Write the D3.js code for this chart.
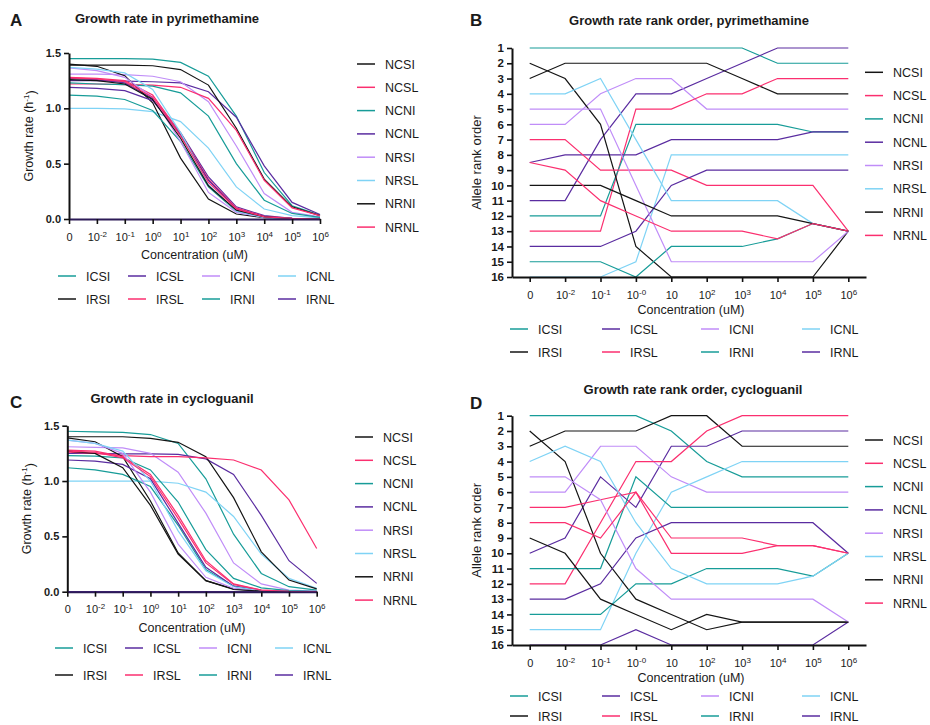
<!DOCTYPE html>
<html>
<head>
<meta charset="utf-8">
<script src="https://cdn.jsdelivr.net/npm/d3@7"></script>
<style>
  body { margin: 0; background: #fff; }
  svg text { font-family: "Liberation Sans", Arial, Helvetica, sans-serif; fill: #1a1a1a; }
</style>
</head>
<body>
<svg id="chart" width="930" height="725"></svg>
<script>
// Alleles, in legend order.
const alleles = ['ICSI', 'ICSL', 'ICNI', 'ICNL', 'IRSI', 'IRSL', 'IRNI', 'IRNL',
                 'NCSI', 'NCSL', 'NCNI', 'NCNL', 'NRSI', 'NRSL', 'NRNI', 'NRNL'];

// Concentration tick labels (base, exponent).
const concGrowthLabels = [['0', ''], ['10', '-2'], ['10', '-1'], ['10', '0'], ['10', '1'],
                          ['10', '2'], ['10', '3'], ['10', '4'], ['10', '5'], ['10', '6']];
const concRankLabels = [['0', ''], ['10', '-2'], ['10', '-1'], ['10', '-0'], ['10', ''],
                        ['10', '2'], ['10', '3'], ['10', '4'], ['10', '5'], ['10', '6']];

const growthTicks = [0, 0.5, 1.0, 1.5];
const rankTicks = [1, 2, 3, 4, 5, 6, 7, 8, 9, 10, 11, 12, 13, 14, 15, 16];

// Growth rate (h-1) in pyrimethamine, one row per allele.
const pyrGrowth = [
  [1.45, 1.45, 1.45, 1.445, 1.415, 1.29, 0.93, 0.42, 0.12, 0.035],   // ICSI
  [1.25, 1.25, 1.245, 1.24, 1.23, 1.15, 0.92, 0.48, 0.15, 0.04],     // ICSL
  [1.31, 1.31, 1.305, 1.29, 1.24, 1.06, 0.66, 0.23, 0.06, 0.02],     // ICNI
  [1.0, 1.0, 0.995, 0.97, 0.88, 0.64, 0.29, 0.09, 0.03, 0.01],       // ICNL
  [1.39, 1.39, 1.39, 1.385, 1.35, 1.21, 0.82, 0.36, 0.11, 0.03],     // IRSI
  [1.22, 1.22, 1.215, 1.21, 1.19, 1.09, 0.80, 0.35, 0.10, 0.03],     // IRSL
  [1.23, 1.22, 1.215, 1.2, 1.14, 0.93, 0.50, 0.17, 0.05, 0.015],     // IRNI
  [1.27, 1.26, 1.23, 1.09, 0.78, 0.38, 0.11, 0.03, 0.006, 0],        // IRNL
  [1.40, 1.38, 1.295, 1.05, 0.55, 0.18, 0.045, 0.012, 0.003, 0],     // NCSI
  [1.28, 1.27, 1.25, 1.12, 0.77, 0.36, 0.10, 0.025, 0.005, 0],       // NCSL
  [1.12, 1.11, 1.08, 0.98, 0.70, 0.29, 0.07, 0.015, 0.004, 0],       // NCNI
  [1.19, 1.18, 1.16, 1.07, 0.76, 0.35, 0.09, 0.02, 0.005, 0],        // NCNL
  [1.365, 1.34, 1.28, 1.10, 0.70, 0.24, 0.06, 0.015, 0.004, 0],      // NRSI
  [1.37, 1.355, 1.32, 1.17, 0.78, 0.31, 0.07, 0.015, 0.004, 0],      // NRSL
  [1.26, 1.25, 1.22, 1.08, 0.73, 0.30, 0.08, 0.02, 0.004, 0],        // NRNI
  [1.275, 1.265, 1.24, 1.10, 0.75, 0.33, 0.09, 0.02, 0.005, 0]       // NRNL
];

// Growth rate (h-1) in cycloguanil.
const cycGrowth = [
  [1.45, 1.445, 1.44, 1.42, 1.34, 1.02, 0.52, 0.165, 0.045, 0.015],  // ICSI
  [1.25, 1.25, 1.245, 1.245, 1.24, 1.20, 1.06, 0.69, 0.28, 0.075],   // ICSL
  [1.31, 1.305, 1.30, 1.25, 1.08, 0.71, 0.26, 0.07, 0.015, 0.005],   // ICNI
  [1.0, 1.0, 1.0, 1.0, 0.98, 0.90, 0.68, 0.34, 0.12, 0.03],          // ICNL
  [1.40, 1.40, 1.40, 1.385, 1.35, 1.22, 0.85, 0.36, 0.105, 0.025],   // IRSI
  [1.26, 1.25, 1.23, 1.22, 1.22, 1.21, 1.19, 1.10, 0.83, 0.39],      // IRSL
  [1.23, 1.225, 1.21, 1.10, 0.81, 0.38, 0.12, 0.035, 0.01, 0.003],   // IRNI
  [0, 0, 0, 0, 0, 0, 0, 0, 0, 0],                                    // IRNL
  [1.39, 1.355, 1.22, 0.82, 0.35, 0.10, 0.025, 0.005, 0, 0],         // NCSI
  [1.28, 1.27, 1.22, 1.06, 0.69, 0.28, 0.07, 0.015, 0.003, 0],       // NCSL
  [1.12, 1.10, 1.06, 0.95, 0.60, 0.20, 0.05, 0.012, 0.003, 0],       // NCNI
  [1.19, 1.18, 1.15, 1.02, 0.62, 0.22, 0.05, 0.01, 0.002, 0],        // NCNL
  [1.37, 1.34, 1.25, 0.90, 0.43, 0.13, 0.03, 0.005, 0, 0],           // NRSI
  [1.37, 1.34, 1.27, 1.0, 0.55, 0.19, 0.045, 0.01, 0, 0],            // NRSL
  [1.27, 1.25, 1.12, 0.78, 0.34, 0.10, 0.02, 0.005, 0, 0],           // NRNI
  [1.27, 1.26, 1.21, 1.04, 0.66, 0.26, 0.065, 0.014, 0.003, 0]       // NRNL
];

// Allele rank order in pyrimethamine.
const pyrRank = [
  [1, 1, 1, 1, 1, 1, 1, 2, 2, 2],                  // ICSI
  [11, 11, 7, 4, 4, 3, 2, 1, 1, 1],                // ICSL
  [6, 6, 4, 3, 3, 5, 5, 5, 5, 5],                  // ICNI
  [16, 16, 16, 15, 8, 8, 8, 8, 8, 8],              // ICNL
  [3, 2, 2, 2, 2, 2, 3, 4, 4, 4],                  // IRSI
  [13, 13, 13, 5, 5, 4, 4, 3, 3, 3],               // IRSL
  [12, 12, 12, 6, 6, 6, 6, 6, 6.5, 6.5],           // IRNI
  [8.5, 8, 8, 8, 7, 7, 7, 7, 6.5, 6.5],            // IRNL
  [2, 3, 6, 14, 16, 16, 16, 16, 16, 13],           // NCSI
  [7, 7, 9, 9, 9, 10, 10, 10, 10, 13],             // NCSL
  [15, 15, 15, 16, 14, 14, 14, 13.5, 12.5, 13],    // NCNI
  [14, 14, 14, 13, 10, 9, 9, 9, 9, 9],             // NCNL
  [5, 5, 5, 10, 15, 15, 15, 15, 15, 13],           // NRSI
  [4, 4, 3, 7, 11, 11, 11, 11, 12.5, 13],          // NRSL
  [10, 10, 10, 11, 12, 12, 12, 12, 12.5, 13],      // NRNI
  [8.5, 9, 11, 12, 13, 13, 13, 13.5, 12.5, 13]     // NRNL
];

// Allele rank order in cycloguanil.
const cycRank = [
  [1, 1, 1, 1, 2, 4, 5, 5, 5, 5],                  // ICSI
  [10, 9, 5, 7, 3, 3, 2, 2, 2, 2],                 // ICSL
  [6, 6, 3, 3, 5, 6, 6, 6, 6, 6],                  // ICNI
  [15, 15, 15, 10, 6, 5, 4, 4, 4, 4],              // ICNL
  [3, 2, 2, 2, 1, 1, 3, 3, 3, 3],                  // IRSI
  [12, 12, 8, 4, 4, 2, 1, 1, 1, 1],                // IRSL
  [11, 11, 11, 5, 7, 7, 7, 7, 7, 7],               // IRNI
  [16, 16, 16, 15, 16, 16, 16, 16, 16, 14.5],      // IRNL
  [2, 4, 10, 13, 14, 15, 14.5, 14.5, 14.5, 14.5],  // NCSI
  [7, 7, 6.5, 6, 9, 9, 9, 9.5, 9.5, 10],           // NCSL
  [14, 14, 14, 12, 12, 11, 11, 11, 11.5, 10],      // NCNI
  [13, 13, 12, 9, 8, 8, 8, 8, 8, 10],              // NCNL
  [5, 5, 6.5, 11, 13, 13, 13, 13, 13, 14.5],       // NRSI
  [4, 3, 4, 8, 11, 12, 12, 12, 11.5, 10],          // NRSL
  [9, 10, 13, 14, 15, 14, 14.5, 14.5, 14.5, 14.5], // NRNI
  [8, 8, 9, 6, 10, 10, 10, 9.5, 9.5, 10]           // NRNL
];

// Colours.
const teal = '#179c98', purple = '#5a2ca0', lavender = '#c08df8',
      lightBlue = '#7fd3f5', black = '#141414', pink = '#fb2f6f';
const alleleColors = [teal, purple, lavender, lightBlue, black, pink, teal, purple,
                      black, pink, teal, purple, lavender, lightBlue, black, pink];

const svg = d3.select('#chart');
const xIndex = d3.range(concGrowthLabels.length);

// Superscript tick labels.
function superLabels(axisG, labels) {
    axisG.selectAll('.tick text').each(function (d) {
        const t = d3.select(this).text(null);
        t.append('tspan').text(labels[d][0]);
        if (labels[d][1]) {
            t.append('tspan').attr('dy', '-0.5em').attr('font-size', '8px').text(labels[d][1]);
        }
    });
}

function styleAxis(axisG, color) {
    axisG.select('.domain').attr('stroke', color).attr('stroke-width', 2);
    axisG.selectAll('.tick line').attr('stroke', '#111').attr('stroke-width', 1.6);
}

// Series lines.
function drawLines(g, data, x, y) {
    const line = d3.line().x((v, i) => x(i)).y((v) => y(v));
    g.append('g')
     .selectAll('path')
     .data(data)
     .join('path')
     .attr('fill', 'none')
     .attr('stroke', (d, i) => alleleColors[i])
     .attr('stroke-width', 1.2)
     .attr('d', line);
}

function growthPanel(data, box) {
    const x = d3.scalePoint().domain(xIndex).range([box.left, box.right]);
    const y = d3.scaleLinear().domain([0, 1.5]).range([box.bottom, box.top]);
    const g = svg.append('g');

    drawLines(g, data, x, y);

    const ya = g.append('g')
                .attr('transform', `translate(${box.left},0)`)
                .call(d3.axisLeft(y).tickValues(growthTicks).tickFormat(d3.format('.1f'))
                        .tickSize(5).tickSizeOuter(0).tickPadding(3));
    styleAxis(ya, '#111');
    ya.selectAll('.tick text').attr('font-size', '11px').attr('font-weight', 'bold').attr('fill', '#111');

    const xa = g.append('g')
                .attr('transform', `translate(0,${box.bottom})`)
                .call(d3.axisBottom(x).tickSize(5).tickSizeOuter(0).tickPadding(9));
    styleAxis(xa, '#2c1b57');
    xa.selectAll('.tick text').attr('font-size', '11px').attr('fill', '#111');
    superLabels(xa, concGrowthLabels);

    const yt = g.append('text')
                .attr('transform', `translate(${box.left - 36},${(box.top + box.bottom) / 2}) rotate(-90)`)
                .attr('text-anchor', 'middle')
                .attr('font-size', '12.5px');
    yt.append('tspan').text('Growth rate (h');
    yt.append('tspan').attr('dy', '-0.5em').attr('font-size', '8px').text('-1');
    yt.append('tspan').attr('dy', '0.5em').text(')');

    g.append('text')
     .attr('x', (box.left + box.right) / 2)
     .attr('y', box.bottom + 40)
     .attr('text-anchor', 'middle')
     .attr('font-size', '12.5px')
     .text('Concentration (uM)');
}

function rankPanel(data, box) {
    const x = d3.scalePoint().domain(xIndex).range([box.left, box.right]).padding(0.5);
    const y = d3.scaleLinear().domain([1, 16]).range([box.top, box.bottom]);
    const g = svg.append('g');

    drawLines(g, data, x, y);

    const ya = g.append('g')
                .attr('transform', `translate(${box.left},0)`)
                .call(d3.axisLeft(y).tickValues(rankTicks).tickFormat(d3.format('d'))
                        .tickSize(5).tickSizeOuter(0).tickPadding(3));
    styleAxis(ya, '#111');
    ya.selectAll('.tick text').attr('font-size', '11.5px').attr('font-weight', 'bold').attr('fill', '#111');

    const xa = g.append('g')
                .attr('transform', `translate(0,${box.bottom})`)
                .call(d3.axisBottom(x).tickSize(5).tickSizeOuter(0).tickPadding(9));
    styleAxis(xa, '#111');
    xa.selectAll('.tick text').attr('font-size', '11px').attr('fill', '#111');
    superLabels(xa, concRankLabels);

    g.append('text')
     .attr('transform', `translate(${box.left - 31},${(box.top + box.bottom) / 2}) rotate(-90)`)
     .attr('text-anchor', 'middle')
     .attr('font-size', '13px')
     .text('Allele rank order');

    g.append('text')
     .attr('x', (box.left + box.right) / 2 + 2)
     .attr('y', box.bottom + 37)
     .attr('text-anchor', 'middle')
     .attr('font-size', '12.5px')
     .text('Concentration (uM)');
}

// Legends: I-alleles below, N-alleles to the right.
function bottomLegend(cols, rows) {
    const g = svg.append('g');
    alleles.slice(0, 8).forEach((name, i) => {
        const lx = cols[i % 4], ly = rows[Math.floor(i / 4)];
        g.append('line').attr('x1', lx).attr('x2', lx + 18).attr('y1', ly).attr('y2', ly)
         .attr('stroke', alleleColors[i]).attr('stroke-width', 1.5);
        g.append('text').attr('x', lx + 28).attr('y', ly).attr('dy', '0.36em')
         .attr('font-size', '12.5px').text(name);
    });
}

function sideLegend(lx, top, step) {
    const g = svg.append('g');
    alleles.slice(8).forEach((name, i) => {
        const ly = top + i * step;
        g.append('line').attr('x1', lx).attr('x2', lx + 18).attr('y1', ly).attr('y2', ly)
         .attr('stroke', alleleColors[i + 8]).attr('stroke-width', 1.5);
        g.append('text').attr('x', lx + 28).attr('y', ly).attr('dy', '0.36em')
         .attr('font-size', '12.5px').text(name);
    });
}

function heading(letter, lx, ly, title, tx, ty) {
    svg.append('text').attr('x', lx).attr('y', ly).attr('font-size', '17px')
       .attr('font-weight', 'bold').text(letter);
    svg.append('text').attr('x', tx).attr('y', ty).attr('text-anchor', 'middle')
       .attr('font-size', '13px').attr('font-weight', 'bold').text(title);
}

// Panel A.
heading('A', 10, 26, 'Growth rate in pyrimethamine', 167, 23);
growthPanel(pyrGrowth, {left: 69, right: 320, top: 53, bottom: 219});
bottomLegend([58, 128, 202, 278], [276, 299]);
sideLegend(357, 64, 23.3);

// Panel B.
heading('B', 470, 26, 'Growth rate rank order, pyrimethamine', 689, 25);
rankPanel(pyrRank, {left: 512, right: 866, top: 48, bottom: 277});
bottomLegend([510, 602, 701, 802], [329, 352]);
sideLegend(865, 72.3, 23.3);

// Panel C.
heading('C', 10, 408, 'Growth rate in cycloguanil', 172, 403);
growthPanel(cycGrowth, {left: 67.3, right: 316.7, top: 425.7, bottom: 591.7});
bottomLegend([55, 125, 199, 275], [648, 675]);
sideLegend(355, 437, 23.3);

// Panel D.
heading('D', 470, 409, 'Growth rate rank order, cycloguanil', 693, 394);
rankPanel(cycRank, {left: 512, right: 866, top: 415.7, bottom: 645});
bottomLegend([510, 602, 701, 802], [696, 716]);
sideLegend(865, 440, 23.3);
</script>
</body>
</html>
